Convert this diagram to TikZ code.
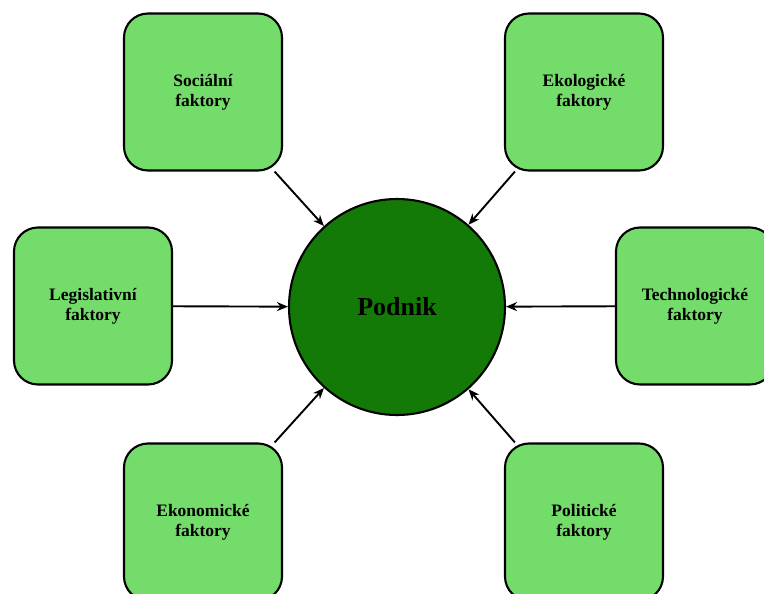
\documentclass[tikz,border=0pt]{standalone}
\usepackage{fontspec}
\setmainfont{Liberation Serif}
\usepackage{xcolor}
\usepackage{tikz}
\usetikzlibrary{arrows.meta}
\definecolor{faktorzelena}{RGB}{116,220,106}
\definecolor{podnikzelena}{RGB}{20,122,7}

\begin{document}
\begin{tikzpicture}[x=1pt, y=-1pt, >={Stealth[length=11pt,width=9pt]}, line width=2.1pt,
    faktor/.style={draw, fill=faktorzelena, rounded corners=24pt, minimum width=158pt,
        minimum height=157pt, align=center, font=\fontsize{17.5}{20}\selectfont\bfseries},
    sipka/.style={->, line width=1.9pt}]
    \clip (0,0) rectangle (764,594);
    \node[draw, circle, fill=podnikzelena, minimum size=216pt,
        font=\fontsize{26}{30}\selectfont\bfseries] (podnik) at (397,307) {Podnik};
    \node[faktor] (socialni) at (203,92) {Sociální\\faktory};
    \node[faktor] (ekologicke) at (584,92) {Ekologické\\faktory};
    \node[faktor] (legislativni) at (93,306) {Legislativní\\faktory};
    \node[faktor] (technologicke) at (695,306) {Technologické\\faktory};
    \node[faktor] (ekonomicke) at (203,522) {Ekonomické\\faktory};
    \node[faktor] (politicke) at (584,522) {Politické\\faktory};
    \draw[sipka] (socialni) -- (podnik);
    \draw[sipka] (ekologicke) -- (podnik);
    \draw[sipka] (legislativni) -- (podnik);
    \draw[sipka] (technologicke) -- (podnik);
    \draw[sipka] (ekonomicke) -- (podnik);
    \draw[sipka] (politicke) -- (podnik);
\end{tikzpicture}
\end{document}
